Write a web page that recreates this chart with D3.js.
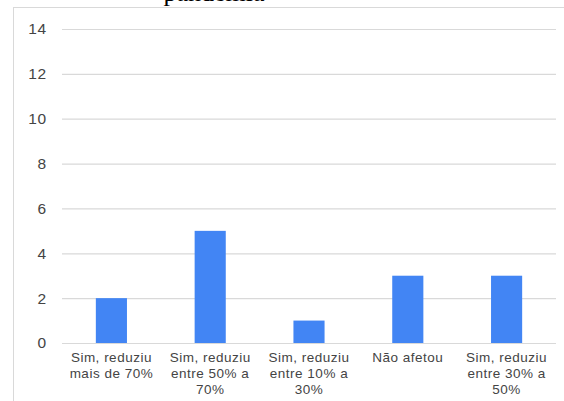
<!DOCTYPE html>
<html>
<head>
<meta charset="utf-8">
<script src="https://cdn.jsdelivr.net/npm/d3@7/dist/d3.min.js"></script>
<style>
  html, body { margin: 0; padding: 0; background: #fff; }
  svg { display: block; }
</style>
</head>
<body>
<svg id="chart" width="564" height="401"></svg>
<script>
// Categories (each split into the lines shown under the axis)
const categories = [
  ["Sim, reduziu", "mais de 70%"],
  ["Sim, reduziu", "entre 50% a", "70%"],
  ["Sim, reduziu", "entre 10% a", "30%"],
  ["Não afetou"],
  ["Sim, reduziu", "entre 30% a", "50%"]
];
const values = [2, 5, 1, 3, 3];
const yTicks = [0, 2, 4, 6, 8, 10, 12, 14];
const titleTail = "pandemia";

const svg = d3.select("#chart");
const W = 564, H = 401;
const plot = { left: 62, right: 556, top: 29, bottom: 343 };

// Frame around the chart
svg.append("line").attr("x1", 13).attr("x2", W).attr("y1", 7.5).attr("y2", 7.5)
  .attr("stroke", "#d9d9d9").attr("stroke-width", 1);
svg.append("line").attr("x1", 13.5).attr("x2", 13.5).attr("y1", 7).attr("y2", H)
  .attr("stroke", "#d9d9d9").attr("stroke-width", 1);

// Title remnant above the frame
svg.append("text")
  .attr("x", 214).attr("y", 1)
  .attr("text-anchor", "middle")
  .attr("font-family", "Liberation Serif, Times New Roman, serif")
  .attr("font-size", 26)
  .attr("fill", "#000")
  .text(titleTail);

const idx = d3.range(categories.length);
const x = d3.scaleBand().domain(idx).range([plot.left, plot.right]).padding(0);
const y = d3.scaleLinear().domain([0, 14]).range([plot.bottom, plot.top]);

// Gridlines and y labels
const yAxis = d3.axisLeft(y).tickValues(yTicks).tickSize(0).tickPadding(15);
const gy = svg.append("g").attr("transform", `translate(${plot.left},0)`).call(yAxis);
gy.select(".domain").remove();
gy.selectAll(".tick line")
  .attr("x2", plot.right - plot.left)
  .attr("stroke", "#d9d9d9").attr("stroke-width", 1.2);
gy.selectAll(".tick text")
  .attr("font-family", "Liberation Sans, Arial, sans-serif")
  .attr("font-size", 15.5)
  .attr("letter-spacing", 0.8)
  .attr("fill", "#444");

// Bars
const barW = x.bandwidth() * 0.315;
svg.append("g").selectAll("rect")
  .data(values)
  .join("rect")
  .attr("x", (d, i) => x(i) + x.bandwidth() / 2 - barW / 2)
  .attr("y", d => y(d))
  .attr("width", barW)
  .attr("height", d => y(0) - y(d))
  .attr("fill", "#4285f4");

// Category labels
const gx = svg.append("g");
categories.forEach((lines, i) => {
  const t = gx.append("text")
    .attr("x", x(i) + x.bandwidth() / 2)
    .attr("text-anchor", "middle")
    .attr("font-family", "Liberation Sans, Arial, sans-serif")
    .attr("font-size", 13.5)
    .attr("letter-spacing", 0.5)
    .attr("fill", "#444");
  lines.forEach((s, j) => {
    t.append("tspan").attr("x", x(i) + x.bandwidth() / 2)
      .attr("y", 362 + j * 16).text(s);
  });
});
</script>
</body>
</html>
